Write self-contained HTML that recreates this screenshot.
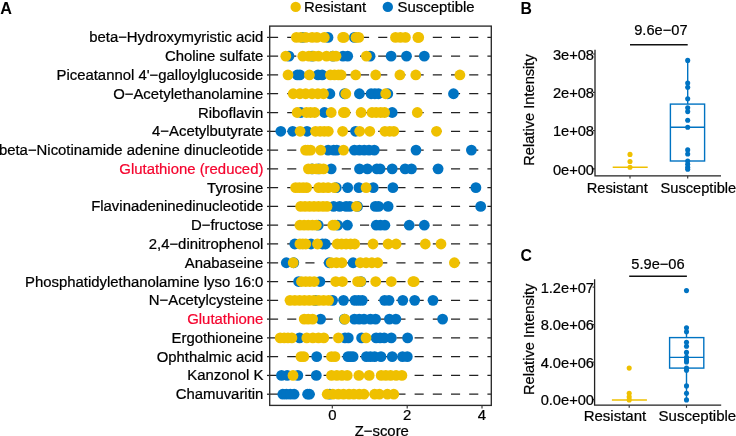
<!DOCTYPE html>
<html lang="en"><head><meta charset="utf-8"><title>Figure</title>
<style>
html,body{margin:0;padding:0;background:#fff;}
body{width:736px;height:436px;overflow:hidden;}
svg{display:block;will-change:transform;}
text{font-family:"Liberation Sans","DejaVu Sans",sans-serif;font-size:14.9px;fill:#000;stroke:#000;stroke-width:.22px;}
.b{font-weight:bold;font-size:15.5px;stroke:none;}
.r{fill:#F5052F;stroke:#F5052F;}
.e{text-anchor:end;}
.m{text-anchor:middle;}
.p text{font-size:14.65px;}
.p text.b{font-size:15.8px;}
.c text.x{font-size:15.0px;}
</style></head><body>
<svg width="736" height="436" viewBox="0 0 736 436">
<rect width="736" height="436" fill="#fff"/>
<text class="b" x="0.2" y="13.9" style="font-size:16.2px">A</text>
<circle cx="295.7" cy="6.9" r="5.2" fill="#EFC000"/>
<text x="304" y="12.2">Resistant</text>
<circle cx="387.8" cy="6.9" r="5.2" fill="#0073C2"/>
<text x="397.6" y="12.2">Susceptible</text>
<g stroke="#222222" stroke-width="1.25" fill="none">
<path d="M269.7 37.40H491.3" stroke-dasharray="9.1 9.1" stroke-dashoffset="0.7"/>
<path d="M267.0 37.40H269.7"/>
<path d="M269.7 56.18H491.3" stroke-dasharray="9.1 9.1" stroke-dashoffset="0.7"/>
<path d="M267.0 56.18H269.7"/>
<path d="M269.7 74.96H491.3" stroke-dasharray="9.1 9.1" stroke-dashoffset="0.7"/>
<path d="M267.0 74.96H269.7"/>
<path d="M269.7 93.74H491.3" stroke-dasharray="9.1 9.1" stroke-dashoffset="0.7"/>
<path d="M267.0 93.74H269.7"/>
<path d="M269.7 112.52H491.3" stroke-dasharray="9.1 9.1" stroke-dashoffset="0.7"/>
<path d="M267.0 112.52H269.7"/>
<path d="M269.7 131.30H491.3" stroke-dasharray="9.1 9.1" stroke-dashoffset="0.7"/>
<path d="M267.0 131.30H269.7"/>
<path d="M269.7 150.08H491.3" stroke-dasharray="9.1 9.1" stroke-dashoffset="0.7"/>
<path d="M267.0 150.08H269.7"/>
<path d="M269.7 168.86H491.3" stroke-dasharray="9.1 9.1" stroke-dashoffset="0.7"/>
<path d="M267.0 168.86H269.7"/>
<path d="M269.7 187.64H491.3" stroke-dasharray="9.1 9.1" stroke-dashoffset="0.7"/>
<path d="M267.0 187.64H269.7"/>
<path d="M269.7 206.42H491.3" stroke-dasharray="9.1 9.1" stroke-dashoffset="0.7"/>
<path d="M267.0 206.42H269.7"/>
<path d="M269.7 225.20H491.3" stroke-dasharray="9.1 9.1" stroke-dashoffset="0.7"/>
<path d="M267.0 225.20H269.7"/>
<path d="M269.7 243.98H491.3" stroke-dasharray="9.1 9.1" stroke-dashoffset="0.7"/>
<path d="M267.0 243.98H269.7"/>
<path d="M269.7 262.76H491.3" stroke-dasharray="9.1 9.1" stroke-dashoffset="0.7"/>
<path d="M267.0 262.76H269.7"/>
<path d="M269.7 281.54H491.3" stroke-dasharray="9.1 9.1" stroke-dashoffset="0.7"/>
<path d="M267.0 281.54H269.7"/>
<path d="M269.7 300.32H491.3" stroke-dasharray="9.1 9.1" stroke-dashoffset="0.7"/>
<path d="M267.0 300.32H269.7"/>
<path d="M269.7 319.10H491.3" stroke-dasharray="9.1 9.1" stroke-dashoffset="0.7"/>
<path d="M267.0 319.10H269.7"/>
<path d="M269.7 337.88H491.3" stroke-dasharray="9.1 9.1" stroke-dashoffset="0.7"/>
<path d="M267.0 337.88H269.7"/>
<path d="M269.7 356.66H491.3" stroke-dasharray="9.1 9.1" stroke-dashoffset="0.7"/>
<path d="M267.0 356.66H269.7"/>
<path d="M269.7 375.44H491.3" stroke-dasharray="9.1 9.1" stroke-dashoffset="0.7"/>
<path d="M267.0 375.44H269.7"/>
<path d="M269.7 394.22H491.3" stroke-dasharray="9.1 9.1" stroke-dashoffset="0.7"/>
<path d="M267.0 394.22H269.7"/>
</g>
<text class="e" x="263.4" y="42.45">beta−Hydroxymyristic acid</text>
<text class="e" x="263.4" y="61.23">Choline sulfate</text>
<text class="e" x="263.4" y="80.01">Piceatannol 4'−galloylglucoside</text>
<text class="e" x="263.4" y="98.79">O−Acetylethanolamine</text>
<text class="e" x="263.4" y="117.57">Riboflavin</text>
<text class="e" x="263.4" y="136.35">4−Acetylbutyrate</text>
<text class="e" x="263.4" y="155.13">beta−Nicotinamide adenine dinucleotide</text>
<text class="e r" x="263.4" y="173.91">Glutathione (reduced)</text>
<text class="e" x="263.4" y="192.69">Tyrosine</text>
<text class="e" x="263.4" y="211.47">Flavinadeninedinucleotide</text>
<text class="e" x="263.4" y="230.25">D−fructose</text>
<text class="e" x="263.4" y="249.03">2,4−dinitrophenol</text>
<text class="e" x="263.4" y="267.81">Anabaseine</text>
<text class="e" x="263.4" y="286.59">Phosphatidylethanolamine lyso 16:0</text>
<text class="e" x="263.4" y="305.37">N−Acetylcysteine</text>
<text class="e r" x="263.4" y="324.15">Glutathione</text>
<text class="e" x="263.4" y="342.93">Ergothioneine</text>
<text class="e" x="263.4" y="361.71">Ophthalmic acid</text>
<text class="e" x="263.4" y="380.49">Kanzonol K</text>
<text class="e" x="263.4" y="399.27">Chamuvaritin</text>
<g fill="#0073C2"><circle cx="302.5" cy="37.40" r="5.4"/><circle cx="328.0" cy="37.40" r="5.4"/><circle cx="354.4" cy="37.40" r="5.4"/></g>
<g fill="#EFC000"><circle cx="296.4" cy="37.40" r="5.4"/><circle cx="300.9" cy="37.40" r="5.4"/><circle cx="305.7" cy="37.40" r="5.4"/><circle cx="312.1" cy="37.40" r="5.4"/><circle cx="316.9" cy="37.40" r="5.4"/><circle cx="324.3" cy="37.40" r="5.4"/><circle cx="342.7" cy="37.40" r="5.4"/><circle cx="344.0" cy="37.40" r="5.4"/><circle cx="356.0" cy="37.40" r="5.4"/><circle cx="358.7" cy="37.40" r="5.4"/><circle cx="395.5" cy="37.40" r="5.4"/><circle cx="400.4" cy="37.40" r="5.4"/><circle cx="405.4" cy="37.40" r="5.4"/><circle cx="417.9" cy="37.40" r="5.4"/><circle cx="418.7" cy="37.40" r="5.4"/></g>
<g fill="#0073C2"><circle cx="289.0" cy="56.18" r="5.4"/><circle cx="312.1" cy="56.18" r="5.4"/><circle cx="332.9" cy="56.18" r="5.4"/><circle cx="343.0" cy="56.18" r="5.4"/><circle cx="347.7" cy="56.18" r="5.4"/><circle cx="370.1" cy="56.18" r="5.4"/><circle cx="391.1" cy="56.18" r="5.4"/><circle cx="406.5" cy="56.18" r="5.4"/><circle cx="424.3" cy="56.18" r="5.4"/></g>
<g fill="#EFC000"><circle cx="285.8" cy="56.18" r="5.4"/><circle cx="302.8" cy="56.18" r="5.4"/><circle cx="308.9" cy="56.18" r="5.4"/><circle cx="313.7" cy="56.18" r="5.4"/><circle cx="318.5" cy="56.18" r="5.4"/><circle cx="326.5" cy="56.18" r="5.4"/><circle cx="332.9" cy="56.18" r="5.4"/><circle cx="336.0" cy="56.18" r="5.4"/><circle cx="366.4" cy="56.18" r="5.4"/></g>
<g fill="#0073C2"><circle cx="297.3" cy="74.96" r="5.4"/><circle cx="299.9" cy="74.96" r="5.4"/><circle cx="318.0" cy="74.96" r="5.4"/><circle cx="322.2" cy="74.96" r="5.4"/></g>
<g fill="#EFC000"><circle cx="288.0" cy="74.96" r="5.4"/><circle cx="309.4" cy="74.96" r="5.4"/><circle cx="330.4" cy="74.96" r="5.4"/><circle cx="334.5" cy="74.96" r="5.4"/><circle cx="338.4" cy="74.96" r="5.4"/><circle cx="341.1" cy="74.96" r="5.4"/><circle cx="355.7" cy="74.96" r="5.4"/><circle cx="375.7" cy="74.96" r="5.4"/><circle cx="399.9" cy="74.96" r="5.4"/><circle cx="415.8" cy="74.96" r="5.4"/><circle cx="459.9" cy="74.96" r="5.4"/></g>
<g fill="#0073C2"><circle cx="329.9" cy="93.74" r="5.4"/><circle cx="344.5" cy="93.74" r="5.4"/><circle cx="359.4" cy="93.74" r="5.4"/><circle cx="371.1" cy="93.74" r="5.4"/><circle cx="374.9" cy="93.74" r="5.4"/><circle cx="378.5" cy="93.74" r="5.4"/><circle cx="387.8" cy="93.74" r="5.4"/><circle cx="453.5" cy="93.74" r="5.4"/></g>
<g fill="#EFC000"><circle cx="293.2" cy="93.74" r="5.4"/><circle cx="299.9" cy="93.74" r="5.4"/><circle cx="305.7" cy="93.74" r="5.4"/><circle cx="312.1" cy="93.74" r="5.4"/><circle cx="317.9" cy="93.74" r="5.4"/><circle cx="323.5" cy="93.74" r="5.4"/><circle cx="345.8" cy="93.74" r="5.4"/><circle cx="385.7" cy="93.74" r="5.4"/></g>
<g fill="#0073C2"><circle cx="300.9" cy="112.52" r="5.4"/><circle cx="324.4" cy="112.52" r="5.4"/><circle cx="392.2" cy="112.52" r="5.4"/></g>
<g fill="#EFC000"><circle cx="297.2" cy="112.52" r="5.4"/><circle cx="306.5" cy="112.52" r="5.4"/><circle cx="310.5" cy="112.52" r="5.4"/><circle cx="314.7" cy="112.52" r="5.4"/><circle cx="331.2" cy="112.52" r="5.4"/><circle cx="343.4" cy="112.52" r="5.4"/><circle cx="345.1" cy="112.52" r="5.4"/><circle cx="361.1" cy="112.52" r="5.4"/><circle cx="372.0" cy="112.52" r="5.4"/><circle cx="376.2" cy="112.52" r="5.4"/><circle cx="380.7" cy="112.52" r="5.4"/><circle cx="384.6" cy="112.52" r="5.4"/><circle cx="417.3" cy="112.52" r="5.4"/></g>
<g fill="#0073C2"><circle cx="280.8" cy="131.30" r="5.4"/><circle cx="292.7" cy="131.30" r="5.4"/><circle cx="307.0" cy="131.30" r="5.4"/><circle cx="355.5" cy="131.30" r="5.4"/></g>
<g fill="#EFC000"><circle cx="300.1" cy="131.30" r="5.4"/><circle cx="315.5" cy="131.30" r="5.4"/><circle cx="320.1" cy="131.30" r="5.4"/><circle cx="324.3" cy="131.30" r="5.4"/><circle cx="328.3" cy="131.30" r="5.4"/><circle cx="342.6" cy="131.30" r="5.4"/><circle cx="359.7" cy="131.30" r="5.4"/><circle cx="369.8" cy="131.30" r="5.4"/><circle cx="384.9" cy="131.30" r="5.4"/><circle cx="389.7" cy="131.30" r="5.4"/><circle cx="393.8" cy="131.30" r="5.4"/><circle cx="436.5" cy="131.30" r="5.4"/></g>
<g fill="#0073C2"><circle cx="328.1" cy="150.08" r="5.4"/><circle cx="333.7" cy="150.08" r="5.4"/><circle cx="336.9" cy="150.08" r="5.4"/><circle cx="354.4" cy="150.08" r="5.4"/><circle cx="359.4" cy="150.08" r="5.4"/><circle cx="364.2" cy="150.08" r="5.4"/><circle cx="369.0" cy="150.08" r="5.4"/><circle cx="374.3" cy="150.08" r="5.4"/><circle cx="416.0" cy="150.08" r="5.4"/><circle cx="471.4" cy="150.08" r="5.4"/></g>
<g fill="#EFC000"><circle cx="305.5" cy="150.08" r="5.4"/><circle cx="307.9" cy="150.08" r="5.4"/><circle cx="310.6" cy="150.08" r="5.4"/><circle cx="320.7" cy="150.08" r="5.4"/><circle cx="343.5" cy="150.08" r="5.4"/></g>
<g fill="#0073C2"><circle cx="312.1" cy="168.86" r="5.4"/><circle cx="318.5" cy="168.86" r="5.4"/><circle cx="331.2" cy="168.86" r="5.4"/><circle cx="359.5" cy="168.86" r="5.4"/><circle cx="367.4" cy="168.86" r="5.4"/><circle cx="376.9" cy="168.86" r="5.4"/><circle cx="380.1" cy="168.86" r="5.4"/><circle cx="392.2" cy="168.86" r="5.4"/><circle cx="405.1" cy="168.86" r="5.4"/><circle cx="411.5" cy="168.86" r="5.4"/><circle cx="438.1" cy="168.86" r="5.4"/></g>
<g fill="#EFC000"><circle cx="308.4" cy="168.86" r="5.4"/><circle cx="312.1" cy="168.86" r="5.4"/><circle cx="316.3" cy="168.86" r="5.4"/><circle cx="320.1" cy="168.86" r="5.4"/><circle cx="323.5" cy="168.86" r="5.4"/></g>
<g fill="#0073C2"><circle cx="336.3" cy="187.64" r="5.4"/><circle cx="347.7" cy="187.64" r="5.4"/><circle cx="358.9" cy="187.64" r="5.4"/><circle cx="373.2" cy="187.64" r="5.4"/><circle cx="392.9" cy="187.64" r="5.4"/><circle cx="475.9" cy="187.64" r="5.4"/></g>
<g fill="#EFC000"><circle cx="295.6" cy="187.64" r="5.4"/><circle cx="299.3" cy="187.64" r="5.4"/><circle cx="303.1" cy="187.64" r="5.4"/><circle cx="306.6" cy="187.64" r="5.4"/><circle cx="318.8" cy="187.64" r="5.4"/><circle cx="323.3" cy="187.64" r="5.4"/><circle cx="328.1" cy="187.64" r="5.4"/><circle cx="334.5" cy="187.64" r="5.4"/><circle cx="366.1" cy="187.64" r="5.4"/></g>
<g fill="#0073C2"><circle cx="333.6" cy="206.42" r="5.4"/><circle cx="339.7" cy="206.42" r="5.4"/><circle cx="346.1" cy="206.42" r="5.4"/><circle cx="349.9" cy="206.42" r="5.4"/><circle cx="357.5" cy="206.42" r="5.4"/><circle cx="375.3" cy="206.42" r="5.4"/><circle cx="378.6" cy="206.42" r="5.4"/><circle cx="388.1" cy="206.42" r="5.4"/><circle cx="480.7" cy="206.42" r="5.4"/></g>
<g fill="#EFC000"><circle cx="300.7" cy="206.42" r="5.4"/><circle cx="305.0" cy="206.42" r="5.4"/><circle cx="309.5" cy="206.42" r="5.4"/><circle cx="314.0" cy="206.42" r="5.4"/><circle cx="318.5" cy="206.42" r="5.4"/><circle cx="323.0" cy="206.42" r="5.4"/><circle cx="327.0" cy="206.42" r="5.4"/><circle cx="356.5" cy="206.42" r="5.4"/></g>
<g fill="#0073C2"><circle cx="318.3" cy="225.20" r="5.4"/><circle cx="337.9" cy="225.20" r="5.4"/><circle cx="347.4" cy="225.20" r="5.4"/><circle cx="376.2" cy="225.20" r="5.4"/><circle cx="380.4" cy="225.20" r="5.4"/><circle cx="384.9" cy="225.20" r="5.4"/><circle cx="409.2" cy="225.20" r="5.4"/><circle cx="424.3" cy="225.20" r="5.4"/></g>
<g fill="#EFC000"><circle cx="299.9" cy="225.20" r="5.4"/><circle cx="304.1" cy="225.20" r="5.4"/><circle cx="308.2" cy="225.20" r="5.4"/><circle cx="312.4" cy="225.20" r="5.4"/><circle cx="316.3" cy="225.20" r="5.4"/><circle cx="332.8" cy="225.20" r="5.4"/><circle cx="335.0" cy="225.20" r="5.4"/></g>
<g fill="#0073C2"><circle cx="294.8" cy="243.98" r="5.4"/><circle cx="311.0" cy="243.98" r="5.4"/><circle cx="322.5" cy="243.98" r="5.4"/><circle cx="325.4" cy="243.98" r="5.4"/></g>
<g fill="#EFC000"><circle cx="299.9" cy="243.98" r="5.4"/><circle cx="302.8" cy="243.98" r="5.4"/><circle cx="305.8" cy="243.98" r="5.4"/><circle cx="317.5" cy="243.98" r="5.4"/><circle cx="337.3" cy="243.98" r="5.4"/><circle cx="341.6" cy="243.98" r="5.4"/><circle cx="346.1" cy="243.98" r="5.4"/><circle cx="350.6" cy="243.98" r="5.4"/><circle cx="354.7" cy="243.98" r="5.4"/><circle cx="373.0" cy="243.98" r="5.4"/><circle cx="388.1" cy="243.98" r="5.4"/><circle cx="396.1" cy="243.98" r="5.4"/><circle cx="425.3" cy="243.98" r="5.4"/><circle cx="441.0" cy="243.98" r="5.4"/></g>
<g fill="#0073C2"><circle cx="286.3" cy="262.76" r="5.4"/><circle cx="293.8" cy="262.76" r="5.4"/><circle cx="329.2" cy="262.76" r="5.4"/><circle cx="353.1" cy="262.76" r="5.4"/></g>
<g fill="#EFC000"><circle cx="293.2" cy="262.76" r="5.4"/><circle cx="331.2" cy="262.76" r="5.4"/><circle cx="336.5" cy="262.76" r="5.4"/><circle cx="341.9" cy="262.76" r="5.4"/><circle cx="360.3" cy="262.76" r="5.4"/><circle cx="366.1" cy="262.76" r="5.4"/><circle cx="371.9" cy="262.76" r="5.4"/><circle cx="377.7" cy="262.76" r="5.4"/><circle cx="454.4" cy="262.76" r="5.4"/></g>
<g fill="#0073C2"><circle cx="298.6" cy="281.54" r="5.4"/><circle cx="319.9" cy="281.54" r="5.4"/><circle cx="361.0" cy="281.54" r="5.4"/></g>
<g fill="#EFC000"><circle cx="301.5" cy="281.54" r="5.4"/><circle cx="305.7" cy="281.54" r="5.4"/><circle cx="309.8" cy="281.54" r="5.4"/><circle cx="314.2" cy="281.54" r="5.4"/><circle cx="335.7" cy="281.54" r="5.4"/><circle cx="342.4" cy="281.54" r="5.4"/><circle cx="357.6" cy="281.54" r="5.4"/><circle cx="360.7" cy="281.54" r="5.4"/><circle cx="375.7" cy="281.54" r="5.4"/><circle cx="391.3" cy="281.54" r="5.4"/><circle cx="412.9" cy="281.54" r="5.4"/><circle cx="414.2" cy="281.54" r="5.4"/></g>
<g fill="#0073C2"><circle cx="315.3" cy="300.32" r="5.4"/><circle cx="332.6" cy="300.32" r="5.4"/><circle cx="343.5" cy="300.32" r="5.4"/><circle cx="354.9" cy="300.32" r="5.4"/><circle cx="358.6" cy="300.32" r="5.4"/><circle cx="362.3" cy="300.32" r="5.4"/><circle cx="384.6" cy="300.32" r="5.4"/><circle cx="389.0" cy="300.32" r="5.4"/><circle cx="402.8" cy="300.32" r="5.4"/><circle cx="414.7" cy="300.32" r="5.4"/><circle cx="433.0" cy="300.32" r="5.4"/></g>
<g fill="#EFC000"><circle cx="290.0" cy="300.32" r="5.4"/><circle cx="294.8" cy="300.32" r="5.4"/><circle cx="299.6" cy="300.32" r="5.4"/><circle cx="304.4" cy="300.32" r="5.4"/><circle cx="309.2" cy="300.32" r="5.4"/><circle cx="314.0" cy="300.32" r="5.4"/><circle cx="318.8" cy="300.32" r="5.4"/><circle cx="323.6" cy="300.32" r="5.4"/><circle cx="328.6" cy="300.32" r="5.4"/></g>
<g fill="#0073C2"><circle cx="320.6" cy="319.10" r="5.4"/><circle cx="344.3" cy="319.10" r="5.4"/><circle cx="354.4" cy="319.10" r="5.4"/><circle cx="359.2" cy="319.10" r="5.4"/><circle cx="364.0" cy="319.10" r="5.4"/><circle cx="370.4" cy="319.10" r="5.4"/><circle cx="375.6" cy="319.10" r="5.4"/><circle cx="389.4" cy="319.10" r="5.4"/><circle cx="395.9" cy="319.10" r="5.4"/><circle cx="442.6" cy="319.10" r="5.4"/></g>
<g fill="#EFC000"><circle cx="304.2" cy="319.10" r="5.4"/><circle cx="308.2" cy="319.10" r="5.4"/><circle cx="312.6" cy="319.10" r="5.4"/><circle cx="344.8" cy="319.10" r="5.4"/></g>
<g fill="#0073C2"><circle cx="299.6" cy="337.88" r="5.4"/><circle cx="345.0" cy="337.88" r="5.4"/><circle cx="348.3" cy="337.88" r="5.4"/><circle cx="361.6" cy="337.88" r="5.4"/><circle cx="376.1" cy="337.88" r="5.4"/><circle cx="380.1" cy="337.88" r="5.4"/><circle cx="384.2" cy="337.88" r="5.4"/><circle cx="391.3" cy="337.88" r="5.4"/><circle cx="407.6" cy="337.88" r="5.4"/></g>
<g fill="#EFC000"><circle cx="280.2" cy="337.88" r="5.4"/><circle cx="284.2" cy="337.88" r="5.4"/><circle cx="288.0" cy="337.88" r="5.4"/><circle cx="291.9" cy="337.88" r="5.4"/><circle cx="306.8" cy="337.88" r="5.4"/><circle cx="312.9" cy="337.88" r="5.4"/><circle cx="318.5" cy="337.88" r="5.4"/><circle cx="323.8" cy="337.88" r="5.4"/><circle cx="338.4" cy="337.88" r="5.4"/><circle cx="366.0" cy="337.88" r="5.4"/></g>
<g fill="#0073C2"><circle cx="316.7" cy="356.66" r="5.4"/><circle cx="348.0" cy="356.66" r="5.4"/><circle cx="350.6" cy="356.66" r="5.4"/><circle cx="353.1" cy="356.66" r="5.4"/><circle cx="366.4" cy="356.66" r="5.4"/><circle cx="370.4" cy="356.66" r="5.4"/><circle cx="374.6" cy="356.66" r="5.4"/><circle cx="381.0" cy="356.66" r="5.4"/><circle cx="392.2" cy="356.66" r="5.4"/><circle cx="402.5" cy="356.66" r="5.4"/><circle cx="407.3" cy="356.66" r="5.4"/></g>
<g fill="#EFC000"><circle cx="301.0" cy="356.66" r="5.4"/><circle cx="303.8" cy="356.66" r="5.4"/><circle cx="331.5" cy="356.66" r="5.4"/><circle cx="335.0" cy="356.66" r="5.4"/></g>
<g fill="#0073C2"><circle cx="281.5" cy="375.44" r="5.4"/><circle cx="287.2" cy="375.44" r="5.4"/><circle cx="297.8" cy="375.44" r="5.4"/><circle cx="316.3" cy="375.44" r="5.4"/></g>
<g fill="#EFC000"><circle cx="293.0" cy="375.44" r="5.4"/><circle cx="331.5" cy="375.44" r="5.4"/><circle cx="336.8" cy="375.44" r="5.4"/><circle cx="341.9" cy="375.44" r="5.4"/><circle cx="347.2" cy="375.44" r="5.4"/><circle cx="358.9" cy="375.44" r="5.4"/><circle cx="369.2" cy="375.44" r="5.4"/><circle cx="381.2" cy="375.44" r="5.4"/><circle cx="385.8" cy="375.44" r="5.4"/><circle cx="390.6" cy="375.44" r="5.4"/><circle cx="396.1" cy="375.44" r="5.4"/><circle cx="401.9" cy="375.44" r="5.4"/></g>
<g fill="#0073C2"><circle cx="282.8" cy="394.22" r="5.4"/><circle cx="286.4" cy="394.22" r="5.4"/><circle cx="290.3" cy="394.22" r="5.4"/><circle cx="294.1" cy="394.22" r="5.4"/><circle cx="307.6" cy="394.22" r="5.4"/><circle cx="309.5" cy="394.22" r="5.4"/><circle cx="329.7" cy="394.22" r="5.4"/></g>
<g fill="#EFC000"><circle cx="327.2" cy="394.22" r="5.4"/><circle cx="332.9" cy="394.22" r="5.4"/><circle cx="338.4" cy="394.22" r="5.4"/><circle cx="343.5" cy="394.22" r="5.4"/><circle cx="349.0" cy="394.22" r="5.4"/><circle cx="353.8" cy="394.22" r="5.4"/><circle cx="359.2" cy="394.22" r="5.4"/><circle cx="364.0" cy="394.22" r="5.4"/><circle cx="374.6" cy="394.22" r="5.4"/><circle cx="379.4" cy="394.22" r="5.4"/><circle cx="387.4" cy="394.22" r="5.4"/><circle cx="393.8" cy="394.22" r="5.4"/></g>
<rect x="269.7" y="26.1" width="221.6" height="379.3" fill="none" stroke="#2b2b2b" stroke-width="1.35"/>
<g stroke="#333" stroke-width="1.15">
<path d="M332.3 405.4V408.6"/>
<path d="M407.2 405.4V408.6"/>
<path d="M482.0 405.4V408.6"/>
</g>
<text class="m" x="332.3" y="419.9">0</text>
<text class="m" x="407.2" y="419.9">2</text>
<text class="m" x="482.0" y="419.9">4</text>
<text class="m" x="381.8" y="435.5">Z−score</text>
<g class="p">
<text class="b" x="520.4" y="13.7">B</text>
<text class="m" x="660.9" y="35.0">9.6e−07</text>
<path d="M630.0 44.7H687.7" stroke="#111" stroke-width="1.5"/>
<path d="M595.0 49.7V175.9H721.0" fill="none" stroke="#222" stroke-width="1.3"/>
<g stroke="#333" stroke-width="1.15">
<path d="M593.0 54.0H595.0"/>
<path d="M593.0 92.3H595.0"/>
<path d="M593.0 130.6H595.0"/>
<path d="M593.0 168.9H595.0"/>
<path d="M630.0 175.9V178.4"/>
<path d="M687.7 175.9V178.4"/>
</g>
<text class="e" x="594.0" y="59.6">3e+08</text>
<text class="e" x="594.0" y="97.9">2e+08</text>
<text class="e" x="594.0" y="136.2">1e+08</text>
<text class="e" x="594.0" y="174.5">0e+00</text>
<text class="m" transform="translate(534.0 110.0) rotate(-90)">Relative Intensity</text>
<text class="x" x="586.8" y="192.9">Resistant</text>
<text class="x" x="660.5" y="192.9">Susceptible</text>
<path d="M612.7 167.2H647.7" stroke="#EFC000" stroke-width="1.5"/>
<g fill="#EFC000"><circle cx="630.0" cy="154.4" r="2.55"/><circle cx="630.0" cy="161.5" r="2.55"/><circle cx="630.0" cy="167.2" r="2.55"/></g>
<g stroke="#0073C2" stroke-width="1.4" fill="none">
<rect x="670.4" y="104.1" width="34.2" height="56.9"/>
<path d="M670.4 127.2H704.6"/>
<path d="M687.7 60.4V104.1M687.7 161.0V169.3"/>
</g>
<g fill="#0073C2"><circle cx="687.7" cy="60.4" r="2.55"/><circle cx="687.7" cy="83.1" r="2.55"/><circle cx="687.7" cy="87.2" r="2.55"/><circle cx="687.7" cy="98.8" r="2.55"/><circle cx="687.7" cy="107.8" r="2.55"/><circle cx="687.7" cy="111.6" r="2.55"/><circle cx="687.7" cy="120.2" r="2.55"/><circle cx="687.7" cy="127.2" r="2.55"/><circle cx="687.7" cy="149.9" r="2.55"/><circle cx="687.7" cy="154.0" r="2.55"/><circle cx="687.7" cy="161.0" r="2.55"/><circle cx="687.7" cy="164.3" r="2.55"/><circle cx="687.7" cy="167.2" r="2.55"/><circle cx="687.7" cy="169.3" r="2.55"/></g>
</g><g class="p c">
<text class="b" x="520.4" y="260.8">C</text>
<text class="m" x="658.0" y="269.0">5.9e−06</text>
<path d="M629.2 276.3H686.9" stroke="#111" stroke-width="1.5"/>
<path d="M594.6 279.2V405.2H721.2" fill="none" stroke="#222" stroke-width="1.3"/>
<g stroke="#333" stroke-width="1.15">
<path d="M592.6 287.1H594.6"/>
<path d="M592.6 324.6H594.6"/>
<path d="M592.6 362.1H594.6"/>
<path d="M592.6 399.6H594.6"/>
<path d="M629.2 405.2V407.8"/>
<path d="M686.5 405.2V407.8"/>
</g>
<text class="e" x="594.0" y="292.7">1.2e+07</text>
<text class="e" x="594.0" y="330.2">8.0e+06</text>
<text class="e" x="594.0" y="367.7">4.0e+06</text>
<text class="e" x="594.0" y="405.2">0.0e+00</text>
<text class="m" transform="translate(534.0 339.3) rotate(-90)">Relative Intensity</text>
<text class="x" x="583.7" y="420.5">Resistant</text>
<text class="x" x="658.6" y="420.5">Susceptible</text>
<path d="M611.9 399.9H646.9" stroke="#EFC000" stroke-width="1.5"/>
<g fill="#EFC000"><circle cx="629.2" cy="368.1" r="2.55"/><circle cx="629.2" cy="393.2" r="2.55"/><circle cx="629.2" cy="396.9" r="2.55"/><circle cx="629.2" cy="399.9" r="2.55"/></g>
<g stroke="#0073C2" stroke-width="1.4" fill="none">
<rect x="669.6" y="337.6" width="34.2" height="30.5"/>
<path d="M669.6 357.4H703.8"/>
<path d="M686.5 327.7V337.6M686.5 368.1V399.9"/>
</g>
<g fill="#0073C2"><circle cx="686.5" cy="290.6" r="2.55"/><circle cx="686.5" cy="327.7" r="2.55"/><circle cx="686.5" cy="331.8" r="2.55"/><circle cx="686.5" cy="342.2" r="2.55"/><circle cx="686.5" cy="346.2" r="2.55"/><circle cx="686.5" cy="352.4" r="2.55"/><circle cx="686.5" cy="357.4" r="2.55"/><circle cx="686.5" cy="359.9" r="2.55"/><circle cx="686.5" cy="361.9" r="2.55"/><circle cx="686.5" cy="368.1" r="2.55"/><circle cx="686.5" cy="370.2" r="2.55"/><circle cx="686.5" cy="385.9" r="2.55"/><circle cx="686.5" cy="393.2" r="2.55"/><circle cx="686.5" cy="399.9" r="2.55"/></g>
</g>
</svg>
</body></html>
